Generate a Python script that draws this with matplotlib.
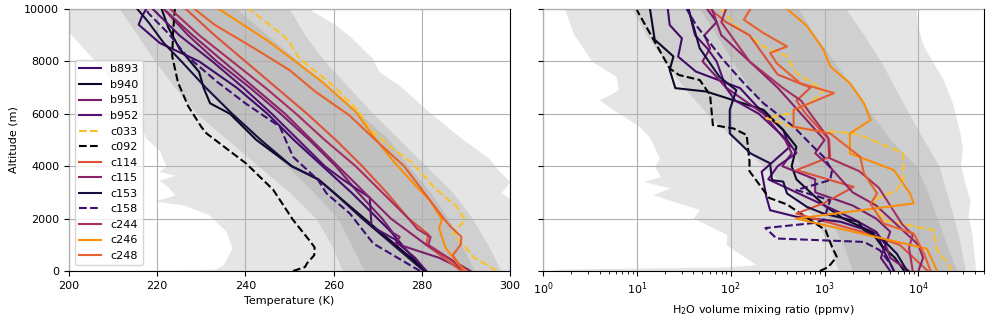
import numpy as np
import matplotlib
matplotlib.use('Agg')
import matplotlib.pyplot as plt

# ---- flight names and colours ----
names = ['b893', 'b940', 'b951', 'b952', 'c033', 'c092', 'c114',
         'c115', 'c153', 'c158', 'c244', 'c246', 'c248']
colors = ['#420a68', '#0c0826', '#7a1d6d', '#57106e', '#fac228', '#000000',
          '#dd513a', '#8b226a', '#1b0c41', '#3b0f70', '#a82e5f', '#f98e09', '#e8602d']
dashed = ['c033', 'c092', 'c158']

# ---- climatology envelopes (temperature, K) ----
env_alt = [0, 1000, 2000, 3000, 4000, 5000, 6000, 7000, 8000, 9000, 10000]
t_mid_lo = [262, 259.5, 256, 250, 243, 236, 229, 224, 219.5, 215.5, 211.5]
t_mid_hi = [298, 295, 291.5, 287, 281, 275, 269, 263.5, 258, 253.5, 250]
t_in_lo = [267, 264, 261, 255.5, 249.5, 243, 236.5, 231, 227, 224, 222]
t_in_hi = [292, 289, 286, 282, 277, 272.6, 266, 259, 252, 245, 238]

t_out_lo_alt = [0, 60, 240, 880, 1530, 2150, 2520, 2670, 2900, 3170, 3470, 3650,
                3800, 4000, 4600, 5076, 6000, 7000, 8000, 9100, 10000]
t_out_lo = [205, 233, 235, 237, 235.5, 231.7, 226, 219.3, 224, 222.7, 220.4, 224,
            220.4, 222, 220.5, 217.4, 215.3, 211, 206, 200, 200]
t_out_hi_alt = [0, 2530, 3000, 3400, 3820, 4310, 5130, 6080, 7100, 7610, 8120,
                8880, 9390, 10000]
t_out_hi = [305, 302, 298, 300, 297.5, 295.2, 288.5, 281.6, 274.8, 270.3, 268.8,
            264.2, 260.5, 254.4]

# ---- climatology envelopes (log10 H2O, ppmv) ----
q_mid_lo = [3.15, 3.05, 2.9, 2.65, 2.35, 2.05, 1.75, 1.5, 1.3, 1.1, 0.95]
q_mid_hi = [4.5, 4.45, 4.38, 4.3, 4.22, 4.06, 3.9, 3.75, 3.6, 3.42, 3.23]
q_in_lo = [3.3, 3.2, 3.05, 2.9, 2.75, 2.6, 2.4, 2.2, 2.02, 1.85, 1.67]
q_in_hi = [4.41, 4.3, 4.2, 4.1, 3.98, 3.7, 3.5, 3.3, 3.1, 2.9, 2.72]

q_out_lo_alt = [0, 80, 150, 240, 1000, 1390, 2020, 2340, 2910, 3170, 3420, 3600,
                4000, 4310, 5076, 5510, 6150, 6530, 6910, 7420, 8000, 9080, 10000]
q_out_lo = [0.05, 0.2, 1.9, 2.27, 1.95, 1.96, 1.6, 1.67, 1.17, 1.35, 1.07, 1.25,
            1.19, 1.24, 1.14, 1.03, 0.75, 0.6, 0.8, 0.78, 0.52, 0.32, 0.23]
q_out_hi_alt = [0, 410, 1430, 2100, 2700, 3300, 4020, 4700, 5310, 6330, 6720,
                7350, 7990, 8620, 9390, 10000]
q_out_hi = [4.61, 4.6, 4.57, 4.53, 4.55, 4.5, 4.45, 4.47, 4.44, 4.37, 4.33,
            4.26, 4.15, 4.05, 3.99, 3.975]

# ---- temperature profiles (alt m, T K) ----
b893_ta = [0, 500, 1000, 1500, 2000, 3000, 4000, 5000, 6000, 7000, 8000, 8700, 9400, 9700, 10000]
b893_t = [281, 278, 275.5, 273, 270, 264, 257.5, 251, 245, 238, 229.5, 220.6, 215.8, 216.5, 217.5]
b940_ta = [0, 500, 1000, 2000, 3000, 3500, 4000, 5000, 6000, 6400, 7000, 7600, 7800, 8500, 9300, 10000]
b940_t = [281, 277.5, 274, 267, 260, 256.5, 250.5, 242.5, 236.5, 232, 230.5, 229.5, 228.5, 225, 222.5, 221]
b951_ta = [0, 500, 1050, 1300, 1450, 2000, 3000, 4000, 5000, 6000, 7000, 8000, 9000, 10000]
b951_t = [290, 284, 274, 275, 273.5, 271, 265.5, 260.5, 254.5, 248, 241, 233.5, 227, 221.5]
b952_ta = [0, 500, 1000, 1200, 1700, 2800, 3500, 4000, 5000, 6000, 7000, 8000, 9000, 10000]
b952_t = [281, 278.5, 275, 274, 268.6, 268.2, 262, 258, 252, 246, 239.5, 232.5, 225, 219]
c033_ta = [0, 540, 1430, 1950, 2450, 3220, 4100, 4750, 5450, 6080, 7100, 8120, 8750, 9010, 10000]
c033_t = [297, 291.7, 287.1, 289.8, 287.9, 282.6, 278, 272.8, 268, 265.8, 259.7, 252.2, 249.9, 248.4, 240.8]
c092_ta = [0, 150, 300, 600, 900, 1150, 1950, 3100, 4100, 5250, 5500, 6300, 7200, 8200, 9100, 10000]
c092_t = [250.8, 253.5, 254, 255.6, 255.7, 254.6, 250.8, 246.3, 240.2, 231.2, 230, 227, 224.7, 223.4, 223.6, 224]
c114_ta = [0, 500, 1000, 1400, 2000, 3000, 4000, 5000, 6000, 7000, 8000, 9000, 10000]
c114_t = [289, 285, 281, 281.5, 277, 272, 266.5, 260.5, 254, 247, 240, 233, 226.5]
c115_ta = [0, 500, 1000, 2000, 3000, 4000, 5000, 6000, 7000, 8000, 9000, 10000]
c115_t = [291, 286, 281, 273, 267, 261, 255, 249, 242, 235, 228, 221.5]
c153_ta = [0, 500, 1000, 2000, 3000, 3500, 4000, 5000, 6000, 7000, 8000, 8700, 9500, 10000]
c153_t = [280.5, 277, 273.5, 266.5, 260, 256.5, 250.5, 243.5, 237, 231, 225.5, 221.5, 218, 215.5]
c158_ta = [0, 1050, 2190, 2960, 3470, 4360, 5510, 6400, 7220, 8240, 9040, 9840, 10000]
c158_t = [279.6, 269, 263.7, 258.4, 256.5, 250.8, 247.8, 240, 233.6, 226.5, 222.7, 218, 217.5]
c244_ta = [0, 500, 1000, 1300, 1600, 2000, 3000, 4000, 5000, 6000, 7000, 8000, 9000, 10000]
c244_t = [290, 286, 281.5, 282, 279, 277, 271, 265, 258, 251.5, 244.5, 237, 229.5, 223]
c246_ta = [0, 240, 880, 1640, 1960, 2700, 3220, 4200, 5190, 6080, 7220, 8180, 8750, 10000]
c246_t = [290, 288.4, 285.4, 283.9, 284.6, 281.8, 278.8, 273.5, 268.8, 265, 257.4, 249.9, 245.4, 234]
c248_ta = [0, 250, 600, 1000, 1300, 1700, 2000, 3000, 4000, 5000, 5950, 6840, 7670, 8500, 9400, 10000]
c248_t = [289.5, 288.5, 287, 288.8, 289, 286.5, 285, 280.5, 276, 269.5, 263.5, 255.9, 250, 242, 233, 228.5]

# ---- H2O profiles (alt m, log10 ppmv) ----
b893_qa = [0, 790, 1430, 1880, 2070, 2320, 2830, 3790, 4740, 5380, 6280, 6980, 7610, 8180, 8880, 9390, 10000]
b893_q = [3.74, 3.63, 3.56, 3.17, 2.7, 2.42, 2.38, 2.33, 2.63, 2.56, 2.28, 2.1, 1.63, 1.44, 1.48, 1.35, 1.33]
b940_qa = [0, 500, 1000, 1500, 2000, 2500, 3000, 3500, 4000, 4740, 5380, 6150, 6850, 6980, 7680, 8190, 8830, 10000]
b940_q = [3.85, 3.75, 3.6, 3.5, 3.2, 3.0, 2.85, 2.7, 2.65, 2.7, 2.56, 2.35, 1.74, 1.41, 1.35, 1.39, 1.19, 1.14]
b951_qa = [0, 500, 1000, 1500, 2000, 2500, 3000, 3500, 4000, 4500, 5000, 6000, 7000, 8000, 8500, 9000, 9500, 10000]
b951_q = [3.9, 3.7, 3.65, 3.7, 3.55, 3.3, 2.9, 2.9, 2.55, 2.65, 2.58, 2.35, 1.95, 1.7, 1.78, 1.72, 1.85, 1.75]
b952_qa = [0, 500, 1000, 1500, 2000, 2500, 3000, 3500, 4000, 4500, 5000, 6000, 6500, 7000, 8000, 8500, 9000, 10000]
b952_q = [3.7, 3.6, 3.65, 3.55, 3.3, 3.0, 2.7, 2.4, 2.5, 2.7, 2.6, 2.3, 2.05, 1.95, 1.85, 1.75, 1.62, 1.55]
c033_qa = [0, 150, 790, 1560, 1940, 2700, 3090, 3470, 4490, 5130, 5250, 5450, 5830, 6020, 6400,
           6910, 7550, 8190, 8570, 9340, 10000]
c033_q = [4.34, 4.34, 4.2, 4.16, 3.63, 3.52, 3.77, 3.84, 3.84, 3.42, 3.31, 2.7, 2.38, 2.63, 2.85,
          2.99, 2.7, 2.6, 2.35, 2.06, 1.9]
c092_qa = [0, 150, 540, 920, 1560, 2540, 2790, 3810, 4190, 5190, 5440, 5570, 6720, 7290, 7480,
           7730, 8880, 9960]
c092_q = [2.95, 3.04, 3.13, 3.08, 3.01, 2.6, 2.41, 2.2, 2.2, 2.17, 2.03, 1.81, 1.78, 1.67, 1.45,
          1.35, 1.17, 1.0]
c114_qa = [0, 500, 1000, 1500, 2190, 2600, 3210, 3850, 4360, 5000, 6000, 6500, 7000, 7500, 8000,
           8500, 9000, 9500, 10000]
c114_q = [4.1, 3.95, 3.8, 3.4, 2.7, 3.0, 3.31, 2.7, 3.06, 3.05, 2.8, 2.7, 2.85, 2.5, 2.4, 2.3,
          2.2, 1.95, 1.78]
c115_qa = [0, 500, 1000, 1500, 2000, 2500, 3000, 4000, 4500, 5000, 6000, 7000, 8000, 9000, 10000]
c115_q = [4.0, 4.05, 4.0, 3.85, 3.7, 3.55, 3.3, 3.05, 2.9, 3.0, 2.75, 2.5, 2.2, 1.9, 1.8]
c153_qa = [0, 660, 1170, 1560, 1880, 2190, 2450, 2960, 3410, 3470, 4110, 4490, 5250, 6150, 6900,
           7410, 8500, 10000]
c153_q = [3.88, 3.77, 3.63, 3.42, 3.36, 2.99, 2.81, 2.6, 2.56, 2.44, 2.42, 2.21, 1.99, 1.99, 2.06,
          1.88, 1.67, 1.55]
c158_qa = [0, 280, 790, 1110, 1170, 1240, 1640, 1830, 1940, 2700, 3090, 3470, 3850, 4360, 4740,
           5510, 6400, 7170, 8060, 9340, 10000]
c158_q = [3.74, 3.7, 3.59, 3.42, 2.99, 2.49, 2.37, 2.88, 2.99, 3.06, 2.7, 3.06, 3.08, 2.99, 2.88,
          2.67, 2.35, 2.14, 1.92, 1.64, 1.53]
c244_qa = [0, 880, 1390, 1770, 3170, 3810, 4310, 5076, 6000, 6500, 7000, 8000, 9000, 9500, 10000]
c244_q = [3.94, 3.9, 3.94, 3.83, 3.58, 3.37, 3.05, 3.04, 2.85, 2.75, 2.55, 2.2, 2.0, 1.9, 1.95]
c246_qa = [0, 850, 2000, 2580, 2960, 3850, 4490, 5250, 5760, 6400, 7170, 7810, 8440, 9360, 10000]
c246_q = [4.2, 4.09, 2.7, 3.95, 3.91, 3.74, 3.27, 3.27, 3.49, 3.42, 3.27, 3.06, 2.99, 2.81, 2.6]
c248_qa = [0, 660, 1430, 1810, 2560, 2960, 3720, 4360, 5250, 5510, 6150, 6790, 7170, 7930, 8320,
           8570, 9080, 9590, 10000]
c248_q = [4.13, 4.06, 3.95, 3.63, 3.49, 3.56, 3.42, 3.38, 3.06, 2.67, 2.67, 3.1, 2.74, 2.49, 2.42,
          2.6, 2.35, 2.14, 2.21]

temp_data = [(b893_ta, b893_t), (b940_ta, b940_t), (b951_ta, b951_t), (b952_ta, b952_t),
             (c033_ta, c033_t), (c092_ta, c092_t), (c114_ta, c114_t), (c115_ta, c115_t),
             (c153_ta, c153_t), (c158_ta, c158_t), (c244_ta, c244_t), (c246_ta, c246_t),
             (c248_ta, c248_t)]
h2o_data = [(b893_qa, b893_q), (b940_qa, b940_q), (b951_qa, b951_q), (b952_qa, b952_q),
            (c033_qa, c033_q), (c092_qa, c092_q), (c114_qa, c114_q), (c115_qa, c115_q),
            (c153_qa, c153_q), (c158_qa, c158_q), (c244_qa, c244_q), (c246_qa, c246_q),
            (c248_qa, c248_q)]

fig = plt.figure(figsize=(9.95, 3.18), dpi=100)
ax1 = fig.add_axes([69 / 995, 1 - 271 / 318, 441 / 995, 262 / 318])
ax2 = fig.add_axes([543 / 995, 1 - 271 / 318, 441 / 995, 262 / 318], sharey=ax1)

shade = dict(color='gray', alpha=0.2, lw=0, zorder=1)

# left: temperature
z = np.linspace(0, 10000, 401)
ax1.fill_betweenx(z, np.interp(z, t_out_lo_alt, t_out_lo), np.interp(z, t_out_hi_alt, t_out_hi), **shade)
ax1.fill_betweenx(env_alt, t_mid_lo, t_mid_hi, **shade)
ax1.fill_betweenx(env_alt, t_in_lo, t_in_hi, **shade)
for name, c, (a, t) in zip(names, colors, temp_data):
    ls = '--' if name in dashed else '-'
    ax1.plot(t, a, color=c, ls=ls, lw=1.5, label=name, zorder=3)

# right: water vapour
ax2.fill_betweenx(z, 10 ** np.interp(z, q_out_lo_alt, q_out_lo),
                  10 ** np.interp(z, q_out_hi_alt, q_out_hi), **shade)
ax2.fill_betweenx(env_alt, 10 ** np.array(q_mid_lo), 10 ** np.array(q_mid_hi), **shade)
ax2.fill_betweenx(env_alt, 10 ** np.array(q_in_lo), 10 ** np.array(q_in_hi), **shade)
for name, c, (a, q) in zip(names, colors, h2o_data):
    ls = '--' if name in dashed else '-'
    ax2.plot(10 ** np.array(q), a, color=c, ls=ls, lw=1.5, zorder=3)

ax1.set_xlim(200, 300)
ax1.set_ylim(0, 10000)
ax2.set_xscale('log')
ax2.set_xlim(1, 5e4)

for ax in (ax1, ax2):
    ax.grid(True, color='#b0b0b0', lw=0.8, zorder=2)
    ax.set_axisbelow(False)
    ax.tick_params(labelsize=8)
plt.setp(ax2.get_yticklabels(), visible=False)

ax1.set_xlabel('Temperature (K)', fontsize=8)
ax1.set_ylabel('Altitude (m)', fontsize=8)
ax2.set_xlabel('H$_2$O volume mixing ratio (ppmv)', fontsize=8)
ax1.legend(loc='lower left', fontsize=8)

fig.savefig('out.png', dpi=100)
